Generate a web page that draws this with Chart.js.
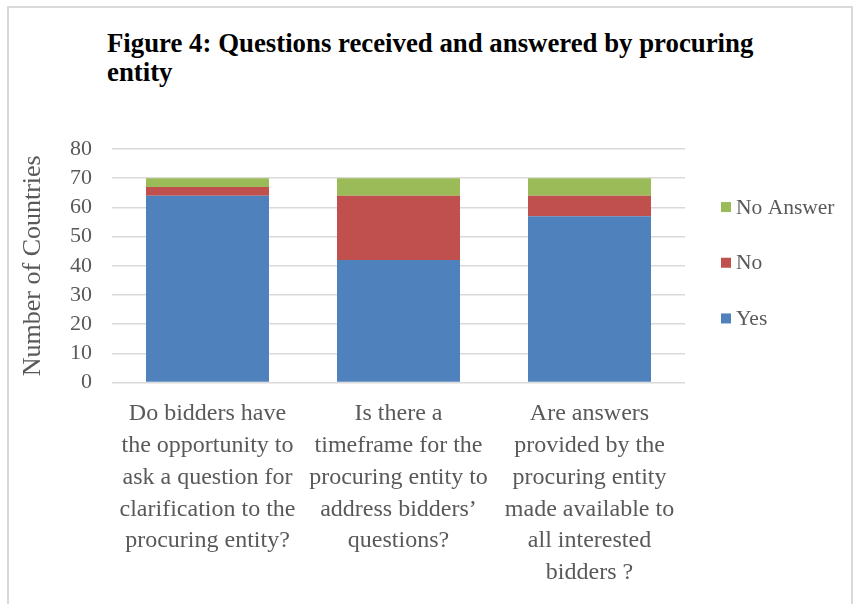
<!DOCTYPE html>
<html>
<head>
<meta charset="utf-8">
<script src="https://cdn.jsdelivr.net/npm/chart.js@4.4.1/dist/chart.umd.min.js"></script>
<style>
    html, body {
        margin: 0;
        padding: 0;
        background: #ffffff;
    }
    .frame {
        position: absolute;
        left: 7px;
        top: 6px;
        width: 846px;
        height: 640px;
        border: 2px solid #d9d9d9;
        box-sizing: border-box;
    }
    .chart-title {
        position: absolute;
        left: 107px;
        top: 29px;
        font-family: "Liberation Serif", "Times New Roman", serif;
        font-weight: bold;
        font-size: 26.8px;
        line-height: 28.5px;
        color: #000000;
        white-space: nowrap;
    }
    .chart-box {
        position: absolute;
        left: 0;
        top: 0;
        width: 858px;
        height: 604px;
    }
</style>
</head>
<body>
<div class="frame"></div>
<div class="chart-title">Figure 4: Questions received and answered by procuring<br>entity</div>
<div class="chart-box"><canvas id="questionsChart" width="858" height="604"></canvas></div>

<script>
// Survey answers per question (number of countries)
const questions = [
    ['Do bidders have', 'the opportunity to', 'ask a question for', 'clarification to the', 'procuring entity?'],
    ['Is there a', 'timeframe for the', 'procuring entity to', 'address bidders\u2019', 'questions?'],
    ['Are answers', 'provided by the', 'procuring entity', 'made available to', 'all interested', 'bidders ?']
];
const yesCounts = [64, 42, 57];
const noCounts = [3, 22, 7];
const noAnswerCounts = [3, 6, 6];
const yTicks = [0, 10, 20, 30, 40, 50, 60, 70, 80];

const serif = '"Liberation Serif", "Times New Roman", serif';

/**
 * Legend drawn to the right of the plot, last series on top
 */
const sideLegend = {
    id: 'sideLegend',
    afterDraw(chart) {
        const ctx = chart.ctx;
        const area = chart.chartArea;
        const sets = chart.data.datasets.slice().reverse();
        const spacing = 55.7;
        const middle = (area.top + area.bottom) / 2;
        const startY = middle - spacing * (sets.length - 1) / 2 - 3;

        ctx.save();
        ctx.font = '21.5px ' + serif;
        ctx.textBaseline = 'middle';
        ctx.textAlign = 'left';
        sets.forEach((set, i) => {
            const y = startY + i * spacing;
            ctx.fillStyle = set.backgroundColor;
            ctx.fillRect(area.right + 36, y - 5, 10, 10);
            ctx.fillStyle = '#595959';
            ctx.fillText(set.label, area.right + 51, y + 1);
        });
        ctx.restore();
    }
};

const ctx = document.getElementById('questionsChart');
new Chart(ctx, {
    type: 'bar',
    data: {
        labels: questions,
        datasets: [
            { label: 'Yes', data: yesCounts, backgroundColor: '#4f81bd' },
            { label: 'No', data: noCounts, backgroundColor: '#c0504d' },
            { label: 'No Answer', data: noAnswerCounts, backgroundColor: '#9bbb59' }
        ]
    },
    options: {
        responsive: false,
        animation: false,
        devicePixelRatio: 1,
        layout: {
            padding: { left: 0, right: 173, top: 149, bottom: 0 }
        },
        datasets: {
            bar: {
                categoryPercentage: 0.644,
                barPercentage: 1
            }
        },
        plugins: {
            legend: { display: false },
            tooltip: { enabled: false }
        },
        scales: {
            x: {
                stacked: true,
                afterFit(axis) {
                    axis.height = 221.5;
                },
                grid: { display: false, drawTicks: false },
                border: { display: false },
                ticks: {
                    color: '#595959',
                    padding: 15,
                    maxRotation: 0,
                    autoSkip: false,
                    font: { family: serif, size: 24, lineHeight: 1.33 }
                }
            },
            y: {
                stacked: true,
                min: 0,
                max: 80,
                afterBuildTicks(axis) {
                    axis.ticks = yTicks.map(v => ({ value: v }));
                },
                afterFit(axis) {
                    axis.width = 112;
                },
                grid: { color: '#d9d9d9', lineWidth: 1.5, drawTicks: false },
                border: { display: false },
                ticks: {
                    color: '#595959',
                    padding: 20,
                    autoSkip: false,
                    font: { family: serif, size: 22 }
                },
                title: {
                    display: true,
                    text: 'Number of Countries',
                    color: '#595959',
                    padding: { top: 18, bottom: 0 },
                    font: { family: serif, size: 26 }
                }
            }
        }
    },
    plugins: [sideLegend]
});
</script>
</body>
</html>
